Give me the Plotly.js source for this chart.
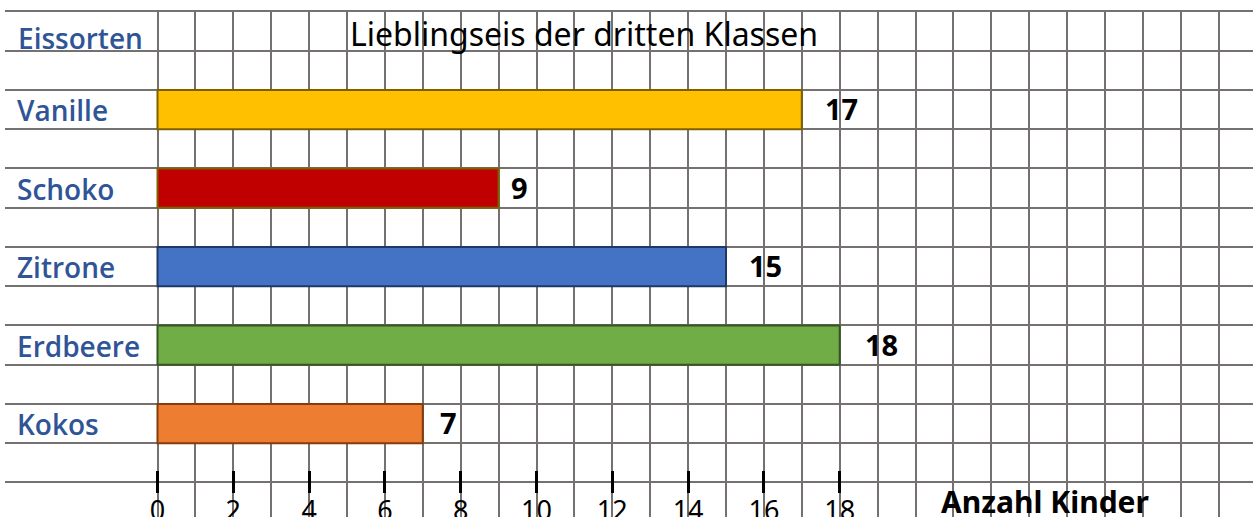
<!DOCTYPE html>
<html><head><meta charset="utf-8">
<script src="https://cdn.plot.ly/plotly-3.0.1.min.js"></script>
<style>html,body{margin:0;padding:0;background:#fff;overflow:hidden}#chart{width:1253px;height:517px;}</style>
</head><body><div id="chart"></div>
<script>
// ---- data ----
const chartTitle = 'Lieblingseis der dritten Klassen';
const categoryTitle = 'Eissorten';
const valueTitle = 'Anzahl Kinder';
const flavours = ['Vanille', 'Schoko', 'Zitrone', 'Erdbeere', 'Kokos'];
const children = [17, 9, 15, 18, 7];
const tickValues = [0, 2, 4, 6, 8, 10, 12, 14, 16, 18];
const tickLabels = ['0', '2', '4', '6', '8', '10', '12', '14', '16', '18'];

// ---- styles ----
const fillColours = ['#FFC000', '#C00000', '#4472C4', '#70AD47', '#ED7D31'];
const lineColours = ['#7F6000', '#7F6000', '#1F3864', '#375623', '#843C0C'];
const labelGap = [21, 10, 21, 23, 15];
const gridColour = '#767171';
const labelBlue = '#2F5597';
const fontFamily = 'Noto Sans, Open Sans, sans-serif';
const labelFamily = 'Open Sans, Noto Sans, sans-serif';

// ---- geometry (pixel scale of the grid paper) ----
const W = 1253, H = 517, ML = 5, MT = 10;
const unitX = 37.9, zeroX = 157.5;
const pitch = 78.5, firstY = 109.5;
const plotH = H - MT;
const xRange = [(ML - zeroX) / unitX, (W - zeroX) / unitX];
const yRange = [(H - firstY) / pitch, (MT - firstY) / pitch];
const pxToPaperY = py => (H - py) / plotH;
const pxToPaperX = px => (px - ML) / (W - ML);

const traces = [{
  type: 'bar',
  orientation: 'h',
  x: children,
  y: flavours,
  width: 0.5,
  marker: {color: fillColours, line: {color: lineColours, width: 2}},
  hoverinfo: 'skip',
  showlegend: false
}, {
  type: 'scatter', mode: 'markers', x: [], y: [], xaxis: 'x2', yaxis: 'y2',
  showlegend: false, hoverinfo: 'skip'
}, {
  type: 'scatter', mode: 'markers', x: [], y: [], xaxis: 'x3', yaxis: 'y2',
  showlegend: false, hoverinfo: 'skip'
}];

const annotations = flavours.map((f, i) => ({
  x: children[i], y: f, xref: 'x', yref: 'y',
  text: String(children[i]), showarrow: false,
  xanchor: 'left', yanchor: 'middle', xshift: labelGap[i], yshift: 1,
  font: {family: fontFamily, size: 29, color: '#000', weight: 'bold'}
}));
annotations.push({
  x: pxToPaperX(16), y: pxToPaperY(38), xref: 'paper', yref: 'paper',
  text: categoryTitle, showarrow: false, xanchor: 'left', yanchor: 'middle',
  font: {family: labelFamily, size: 28, color: labelBlue, weight: 600}
});
annotations.push({
  x: pxToPaperX(1045), y: pxToPaperY(501), xref: 'paper', yref: 'paper',
  text: valueTitle, showarrow: false, xanchor: 'center', yanchor: 'middle',
  font: {family: fontFamily, size: 30, color: '#000', weight: 'bold'}
});

const layout = {
  width: W, height: H,
  margin: {l: ML, r: 0, t: MT, b: 0, pad: 0},
  paper_bgcolor: '#fff', plot_bgcolor: '#fff',
  showlegend: false,
  title: {
    text: chartTitle, xref: 'container', yref: 'container',
    x: 584 / W, xanchor: 'center', y: 1 - 35 / H, yanchor: 'middle',
    font: {family: fontFamily, size: 32, color: '#000'}
  },
  xaxis: {
    range: xRange, type: 'linear', tickmode: 'linear', tick0: 0, dtick: 1,
    showgrid: true, gridcolor: gridColour, gridwidth: 2,
    zeroline: false, showline: false, showticklabels: false, ticks: '',
    fixedrange: true
  },
  xaxis2: {
    overlaying: 'x', anchor: 'free', position: pxToPaperY(470), side: 'bottom',
    range: xRange, type: 'linear', tickmode: 'array',
    tickvals: tickValues, ticktext: tickLabels,
    ticks: 'outside', ticklen: 22, tickwidth: 3, tickcolor: '#000',
    showticklabels: false,
    showgrid: false, zeroline: false, showline: false,
    fixedrange: true
  },
  xaxis3: {
    overlaying: 'x', anchor: 'free', position: pxToPaperY(492), side: 'bottom',
    range: xRange, type: 'linear', tickmode: 'array',
    tickvals: tickValues, ticktext: tickLabels,
    ticks: '', showgrid: false, zeroline: false, showline: false,
    tickfont: {family: fontFamily, size: 27, color: '#000'},
    fixedrange: true
  },
  yaxis: {
    type: 'category', categoryorder: 'array', categoryarray: flavours,
    range: yRange, showgrid: false, zeroline: false, showline: false,
    ticks: '', ticklabelposition: 'inside', ticklabelstandoff: 9, ticklabelshift: -2,
    tickfont: {family: labelFamily, size: 28, color: labelBlue, weight: 600},
    fixedrange: true
  },
  yaxis2: {
    overlaying: 'y', anchor: 'x', type: 'linear', range: yRange,
    tickmode: 'linear', tick0: 0.25, dtick: 0.5,
    showgrid: true, gridcolor: gridColour, gridwidth: 2,
    zeroline: false, showline: false, showticklabels: false, ticks: '',
    fixedrange: true
  },
  annotations: annotations
};

Plotly.newPlot('chart', traces, layout, {displayModeBar: false, staticPlot: true});
</script>
</body></html>
